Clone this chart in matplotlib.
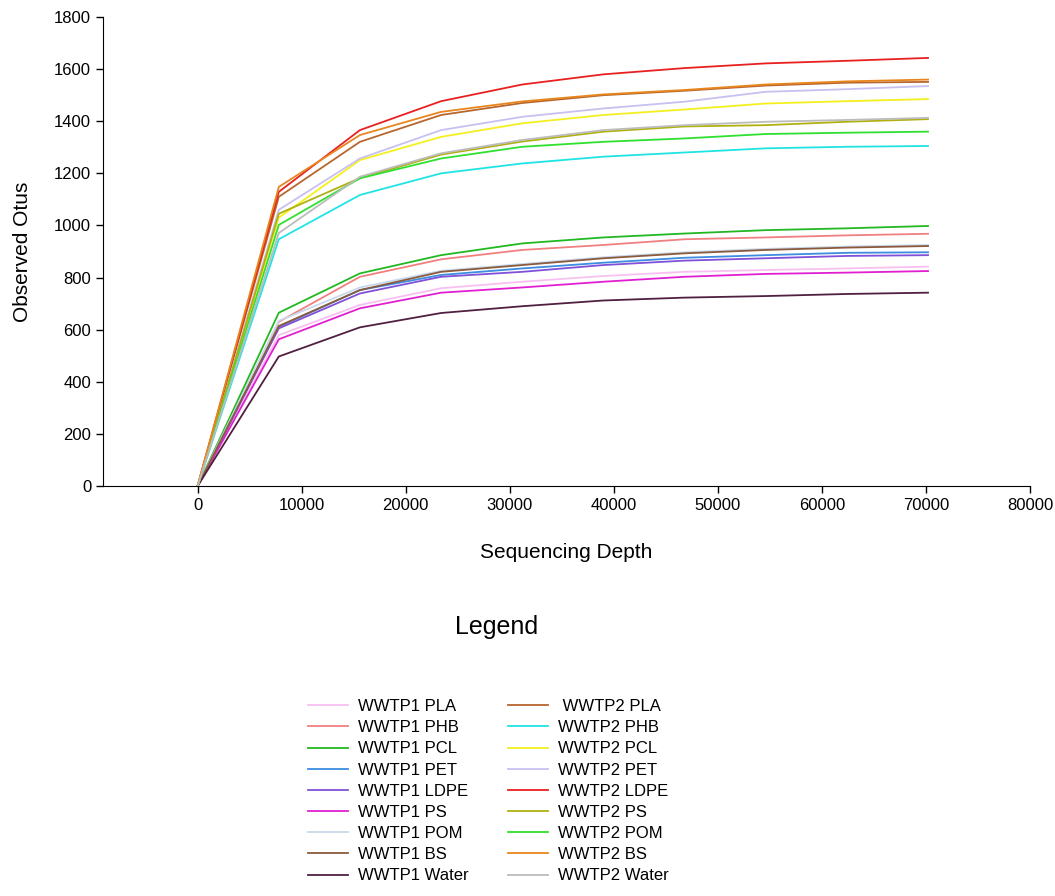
import matplotlib
matplotlib.use("Agg")
import matplotlib.pyplot as plt

plt.rcParams['font.family'] = ['Liberation Sans', 'DejaVu Sans']

# sequencing depths of the rarefaction steps
depth = [0, 7800, 15600, 23400, 31200, 39000, 46800, 54600, 62400, 70200]

# observed OTUs per sample
wwtp1_pla = [0, 579, 695, 759, 784, 806, 822, 829, 835, 842]
wwtp1_phb = [0, 630, 803, 870, 906, 925, 947, 954, 962, 968]
wwtp1_pcl = [0, 665, 816, 886, 931, 954, 969, 982, 989, 998]
wwtp1_pet = [0, 611, 752, 810, 835, 857, 876, 886, 895, 897]
wwtp1_ldpe = [0, 605, 739, 803, 822, 848, 865, 874, 883, 886]
wwtp1_ps = [0, 563, 682, 742, 762, 784, 803, 814, 819, 825]
wwtp1_pom = [0, 634, 762, 826, 852, 878, 897, 910, 919, 925]
wwtp1_bs = [0, 614, 752, 822, 848, 874, 893, 906, 915, 921]
wwtp1_water = [0, 497, 609, 664, 690, 712, 723, 729, 737, 742]

wwtp2_pla = [0, 1110, 1321, 1424, 1470, 1500, 1517, 1537, 1548, 1551]
wwtp2_phb = [0, 947, 1117, 1200, 1238, 1264, 1280, 1296, 1302, 1305]
wwtp2_pcl = [0, 1030, 1251, 1340, 1392, 1424, 1445, 1468, 1477, 1485]
wwtp2_pet = [0, 1060, 1257, 1366, 1417, 1449, 1475, 1513, 1523, 1535]
wwtp2_ldpe = [0, 1129, 1366, 1477, 1541, 1580, 1604, 1622, 1632, 1643]
wwtp2_ps = [0, 1045, 1182, 1272, 1322, 1360, 1380, 1385, 1398, 1408]
wwtp2_pom = [0, 1002, 1181, 1257, 1302, 1321, 1334, 1351, 1356, 1360]
wwtp2_bs = [0, 1148, 1347, 1436, 1476, 1503, 1520, 1541, 1553, 1560]
wwtp2_water = [0, 971, 1187, 1277, 1328, 1366, 1385, 1398, 1405, 1413]

labels1 = ["WWTP1 PLA", "WWTP1 PHB", "WWTP1 PCL", "WWTP1 PET", "WWTP1 LDPE",
           "WWTP1 PS", "WWTP1 POM", "WWTP1 BS", "WWTP1 Water"]
labels2 = [" WWTP2 PLA", "WWTP2 PHB", "WWTP2 PCL", "WWTP2 PET", "WWTP2 LDPE",
           "WWTP2 PS", "WWTP2 POM", "WWTP2 BS", "WWTP2 Water"]

series1 = [wwtp1_pla, wwtp1_phb, wwtp1_pcl, wwtp1_pet, wwtp1_ldpe,
           wwtp1_ps, wwtp1_pom, wwtp1_bs, wwtp1_water]
series2 = [wwtp2_pla, wwtp2_phb, wwtp2_pcl, wwtp2_pet, wwtp2_ldpe,
           wwtp2_ps, wwtp2_pom, wwtp2_bs, wwtp2_water]

colors1 = ["#f8c0f0", "#f08080", "#22b822", "#3c8ce0", "#8050d8",
           "#e020d0", "#c8d8ec", "#8b5a3c", "#502040"]
colors2 = ["#b8662e", "#20e4e4", "#f4f020", "#c8c0f0", "#e82020",
           "#b0b010", "#30e030", "#e8861e", "#bcbcbc"]

fig = plt.figure(figsize=(10.55, 8.96), dpi=100)
ax = fig.add_axes([0.0976, 0.4576, 0.8787, 0.5234])

handles = []
for vals, lab, col in zip(series1 + series2, labels1 + labels2, colors1 + colors2):
    h, = ax.plot(depth, vals, color=col, lw=1.3, label=lab)
    handles.append(h)

ax.set_xlim(-9100, 80000)
ax.set_ylim(0, 1800)
ax.set_xticks(range(0, 80001, 10000))
ax.set_yticks(range(0, 1801, 200))
ax.spines['top'].set_visible(False)
ax.spines['right'].set_visible(False)
ax.tick_params(labelsize=12, length=5, width=1)
ax.set_xlabel("Sequencing Depth", fontsize=15, labelpad=22)
ax.set_ylabel("Observed Otus", fontsize=15, labelpad=16)

fig.text(0.471, 1 - 627 / 896, "Legend", fontsize=18, ha="center", va="center")
fig.legend(handles=handles, ncol=2, frameon=False, fontsize=12,
           loc="center", bbox_to_anchor=(0.463, 0.117),
           handlelength=2.4, handletextpad=0.6, columnspacing=2.4,
           labelspacing=0.37)

plt.savefig("out.png", dpi=100)
